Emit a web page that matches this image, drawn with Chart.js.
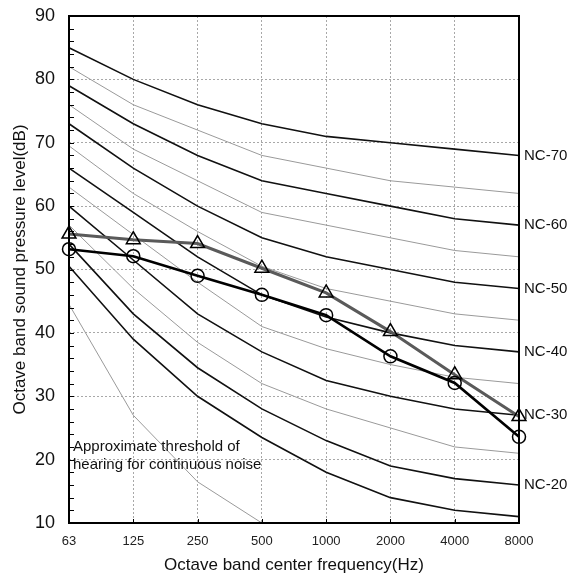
<!DOCTYPE html>
<html>
<head>
<meta charset="utf-8">
<script src="https://cdn.jsdelivr.net/npm/chart.js@4.4.0/dist/chart.umd.min.js"></script>
<style>
  html, body { margin: 0; padding: 0; background: #fff; }
</style>
</head>
<body>
<canvas id="ncChart" width="571" height="584"></canvas>
<script>
// 옥타브 밴드 중심 주파수 (x축)
const frequencies = ['63', '125', '250', '500', '1000', '2000', '4000', '8000'];

// NC 곡선
const nc70 = [85, 80, 76, 73, 71, 70, 69, 68];
const nc65 = [82, 76, 72, 68, 66, 64, 63, 62];
const nc60 = [79, 73, 68, 64, 62, 60, 58, 57];
const nc55 = [76, 69, 64, 59, 57, 55, 53, 52];
const nc50 = [73, 66, 60, 55, 52, 50, 48, 47];
const nc45 = [69.5, 62, 56, 50.5, 47, 45, 43, 42];
const nc40 = [66, 59, 52, 46, 42.5, 40, 38, 37];
const nc35 = [63, 55.5, 48, 41, 37.5, 35, 33, 32];
const nc30 = [60, 51.5, 43, 37, 32.5, 30, 28, 27];
const nc25 = [57, 47, 38.5, 32, 28, 25, 22, 21];
const nc20 = [54, 43, 34.5, 28, 23, 19, 17, 16];
const nc15 = [50.5, 39, 30, 23.5, 18, 14, 12, 11];
const hearingThreshold = [44.5, 27, 16.5, 10, null, null, null, null];

// 측정값
const measuredCircle = [53.2, 52.1, 49.0, 46.0, 42.8, 36.3, 32.1, 23.6];
const measuredTriangle = [55.6, 54.7, 54.1, 50.2, 46.3, 40.2, 33.4, 26.8];

// 오른쪽 NC 라벨
const ncLabels = ['NC-70', 'NC-60', 'NC-50', 'NC-40', 'NC-30', 'NC-20'];
const ncLabelCurves = [nc70, nc60, nc50, nc40, nc30, nc20];

const FONT = '"Liberation Sans", Arial, sans-serif';

function ncLine(label, data, thick) {
    return {
        label: label,
        data: data,
        borderColor: thick ? '#111' : '#9a9a9a',
        borderWidth: thick ? 1.6 : 1,
        pointRadius: 0,
        tension: 0,
        fill: false,
        order: 2
    };
}

// 테두리, 눈금, 라벨 그리는 플러그인
const decorPlugin = {
    id: 'decor',
    afterDraw(chart) {
        const ctx = chart.ctx;
        const area = chart.chartArea;
        const x = chart.scales.x;
        const y = chart.scales.y;
        ctx.save();

        // 안쪽 눈금 (y축 2 단위마다)
        ctx.strokeStyle = '#000';
        ctx.lineWidth = 1;
        for (let v = 12; v < 90; v += 2) {
            const py = Math.round(y.getPixelForValue(v)) + 0.5;
            ctx.beginPath();
            ctx.moveTo(area.left, py);
            ctx.lineTo(area.left + 5, py);
            ctx.stroke();
        }
        // x축 눈금
        for (let i = 1; i < frequencies.length - 1; i++) {
            const px = Math.round(x.getPixelForValue(i)) + 0.5;
            ctx.beginPath();
            ctx.moveTo(px, area.bottom);
            ctx.lineTo(px, area.bottom - 4);
            ctx.stroke();
        }

        // 테두리
        ctx.lineWidth = 2;
        ctx.strokeStyle = '#000';
        ctx.strokeRect(area.left, area.top, area.right - area.left, area.bottom - area.top);

        // NC 라벨
        ctx.fillStyle = '#111';
        ctx.font = '15px ' + FONT;
        ctx.textAlign = 'left';
        ctx.textBaseline = 'middle';
        ncLabels.forEach((txt, i) => {
            const curve = ncLabelCurves[i];
            const py = y.getPixelForValue(curve[curve.length - 1]);
            ctx.fillText(txt, area.right + 5, py);
        });

        // 청감 한계 설명
        ctx.font = '15px ' + FONT;
        ctx.textBaseline = 'alphabetic';
        const tx = x.getPixelForValue(0) + 4;
        ctx.fillText('Approximate threshold of', tx, y.getPixelForValue(21.3));
        ctx.fillText('hearing for continuous noise', tx, y.getPixelForValue(18.5));
        ctx.restore();
    }
};

const ctx = document.getElementById('ncChart').getContext('2d');
new Chart(ctx, {
    type: 'line',
    data: {
        labels: frequencies,
        datasets: [
            {
                label: 'Measured (circle)',
                data: measuredCircle,
                borderColor: '#000',
                borderWidth: 2.6,
                pointStyle: 'circle',
                pointRadius: 6.5,
                pointBorderWidth: 1.5,
                pointBorderColor: '#000',
                pointBackgroundColor: 'rgba(255,255,255,0)',
                tension: 0,
                order: 0
            },
            {
                label: 'Measured (triangle)',
                data: measuredTriangle,
                borderColor: '#5a5a5a',
                borderWidth: 3,
                pointStyle: 'triangle',
                pointRadius: 8,
                pointBorderWidth: 1.5,
                pointBorderColor: '#000',
                pointBackgroundColor: 'rgba(255,255,255,0)',
                tension: 0,
                order: 1
            },
            ncLine('NC-70', nc70, true),
            ncLine('NC-65', nc65, false),
            ncLine('NC-60', nc60, true),
            ncLine('NC-55', nc55, false),
            ncLine('NC-50', nc50, true),
            ncLine('NC-45', nc45, false),
            ncLine('NC-40', nc40, true),
            ncLine('NC-35', nc35, false),
            ncLine('NC-30', nc30, true),
            ncLine('NC-25', nc25, false),
            ncLine('NC-20', nc20, true),
            ncLine('NC-15', nc15, true),
            ncLine('Threshold', hearingThreshold, false)
        ]
    },
    options: {
        responsive: false,
        animation: false,
        layout: { padding: { top: 16, right: 52, left: 0, bottom: 0 } },
        plugins: {
            legend: { display: false },
            tooltip: { enabled: false }
        },
        scales: {
            x: {
                offset: false,
                afterFit: s => { s.height = 61; },
                grid: {
                    color: '#a8a8a8',
                    lineWidth: 1,
                    drawTicks: false
                },
                border: { display: false, dash: [2, 2] },
                ticks: {
                    color: '#222',
                    padding: 11,
                    maxRotation: 0,
                    font: { family: FONT, size: 13 }
                },
                title: {
                    display: true,
                    text: 'Octave band center frequency(Hz)',
                    color: '#111',
                    padding: { top: 0, bottom: 8 },
                    font: { family: FONT, size: 17 }
                }
            },
            y: {
                min: 10,
                max: 90,
                afterFit: s => {
                    s.width = 69;
                    s.paddingTop = 0;
                    s.paddingBottom = 0;
                },
                grid: {
                    color: '#a8a8a8',
                    lineWidth: 1,
                    drawTicks: false
                },
                border: { display: false, dash: [2, 2] },
                ticks: {
                    stepSize: 10,
                    color: '#111',
                    padding: 14,
                    font: { family: FONT, size: 18 }
                },
                title: {
                    display: true,
                    text: 'Octave band sound pressure level(dB)',
                    color: '#111',
                    padding: { top: 10, bottom: 0 },
                    font: { family: FONT, size: 17 }
                }
            }
        }
    },
    plugins: [decorPlugin]
});
</script>
</body>
</html>
